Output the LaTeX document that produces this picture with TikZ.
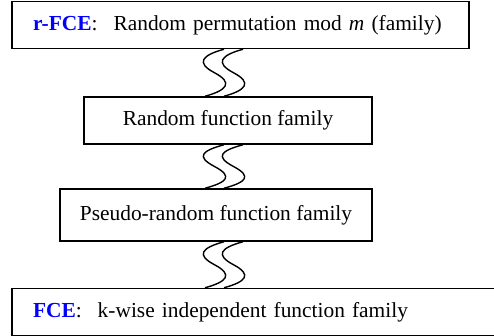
\documentclass[tikz,border=0pt]{standalone}
\usepackage{fontspec}
\setmainfont{Liberation Serif}
\usepackage{tikz}
\usetikzlibrary{calc,positioning}
\tikzstyle{level} = [draw, line width=0.75pt, text centered, minimum height=23.5pt, inner sep=0pt, font=\fontsize{10.7}{12.8}\selectfont]
\tikzstyle{fcelevel} = [level, align=left, text width=207.5pt, inner xsep=10.5pt]
\tikzstyle{wave} = [draw, line width=0.7pt]
\newcommand{\level}[3]{node (l#1) [level, minimum width=#2] {#3}}
\newcommand{\fcelevel}[3]{node (l#1) [fcelevel, text width=#2] {#3}}
\newcommand{\fce}[1]{\textcolor{blue}{\textbf{#1}}:\hspace{8pt}}
\newcommand{\wave}[2]{%
\foreach \w in {w1,w2}
\draw [wave] (l#1.south -| \w) .. controls ($(l#1.south -| \w)+(-11,-3)$) and ($($(l#1.south -| \w)!0.5!(l#2.north -| \w)$)+(-14.25,5)$) ..
 ($($(l#1.south -| \w)!0.5!(l#2.north -| \w)$)+(-4.75,0)$) .. controls ($($(l#1.south -| \w)!0.5!(l#2.north -| \w)$)+(4.75,-5)$) and ($(l#2.north -| \w)+(1.5,3)$) ..
 ($(l#2.north -| \w)+(-9.5,0)$);}

\begin{document}
\begin{tikzpicture}[x=1pt,y=1pt]
\useasboundingbox (0,0) rectangle (247,-168);
\path (120.25,-12.5) \fcelevel{1}{207.5pt}{\fce{r-FCE}Random permutation mod \textit{m} (family)};
\path (l1)+(-6.25,-47.75) \level{2}{144pt}{Random function family};
\path (l2)+(-6.0,-47.25) node (l3) [level, minimum width=156pt, minimum height=26pt] {Pseudo-random function family};
\path (l3)+(23.0,-48.5) \fcelevel{4}{229pt}{\fce{FCE}k-wise independent function family};
\coordinate (w1) at (112,0);
\coordinate (w2) at (121.5,0);

% wavy links between the levels
\wave{1}{2}
\wave{2}{3}
\wave{3}{4}
\end{tikzpicture}
\end{document}
